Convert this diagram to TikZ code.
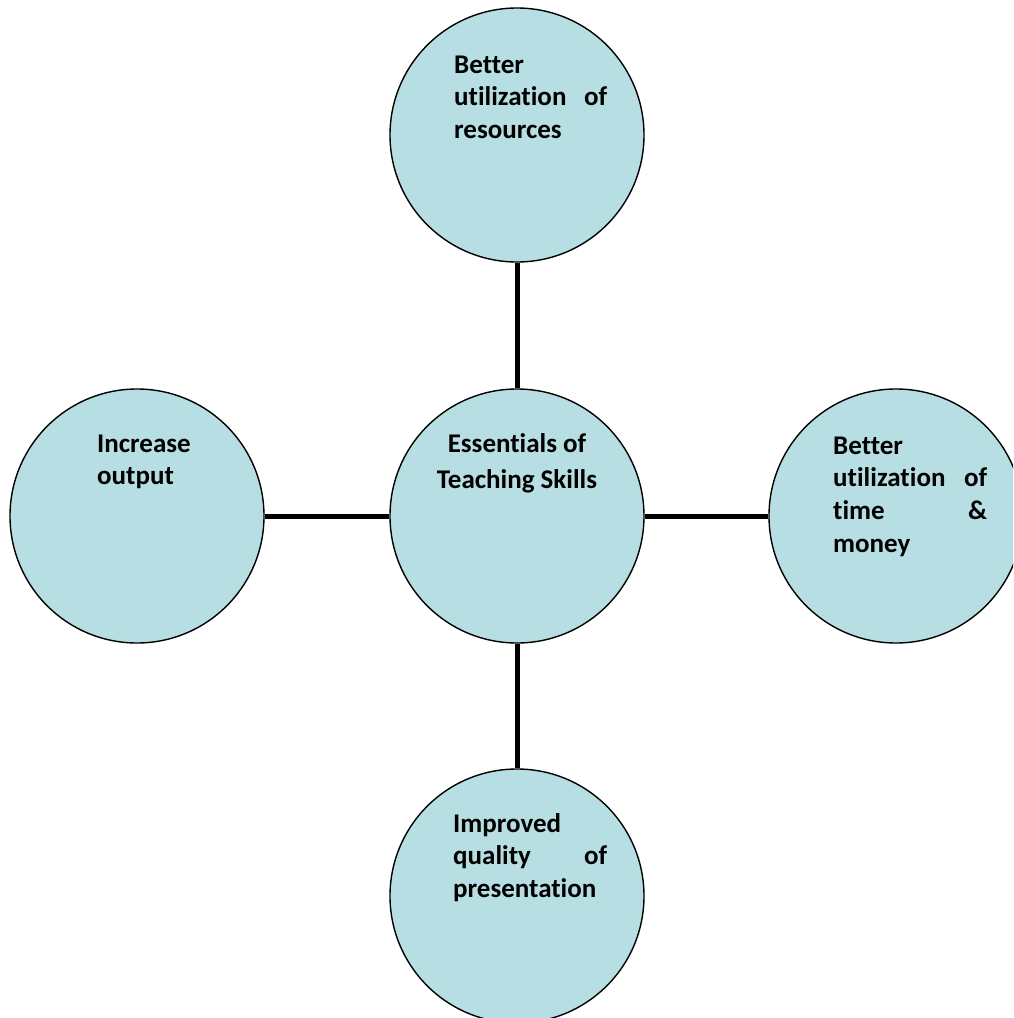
\documentclass[tikz,border=0pt]{standalone}
\usepackage{fontspec}
\setmainfont{Carlito}[Ligatures=NoCommon]
\begin{document}
\begin{tikzpicture}[x=1pt,y=-1pt,
  bubble/.style={circle,draw=black,line width=1.4pt,fill=bubblefill,minimum size=254pt,inner sep=0pt},
  link/.style={line width=5pt,draw=black},
  txt/.style={inner sep=0pt,anchor=north west,align=left,font=\fontsize{27}{32.7}\selectfont\bfseries},
  ctxt/.style={inner sep=0pt,align=center,font=\fontsize{27}{36}\selectfont\bfseries}]
\definecolor{bubblefill}{HTML}{B7DFE3}
\useasboundingbox (0,0) rectangle (1013,1018);
\clip (0,0) rectangle (1013,1018);
\node[bubble] (c) at (517,516) {};
\node[bubble] (t) at (517,135) {};
\node[bubble] (l) at (137,516) {};
\node[bubble] (r) at (896,516) {};
\node[bubble] (b) at (517,896) {};
\draw[link] (t) -- (c);
\draw[link] (l) -- (c);
\draw[link] (c) -- (r);
\draw[link] (c) -- (b);
\node[txt,text width=153pt] (tt) at (454,50.1) {\strut Better\\utilization\hfill of\\resources};
\node[txt,text width=154pt] (rt) at (833,431.1) {\strut Better\\utilization\hfill of\\time\hfill \&\\money};
\node[txt,text width=154pt] (bt) at (453,809.1) {\strut Improved\\quality\hfill of\\presentation};
\node[txt,text width=150pt] (lt) at (97,429.1) {\strut Increase\\output};
\node[ctxt,anchor=base] (ct) at (517,488) {Essentials of\\Teaching Skills};
\end{tikzpicture}
\end{document}
